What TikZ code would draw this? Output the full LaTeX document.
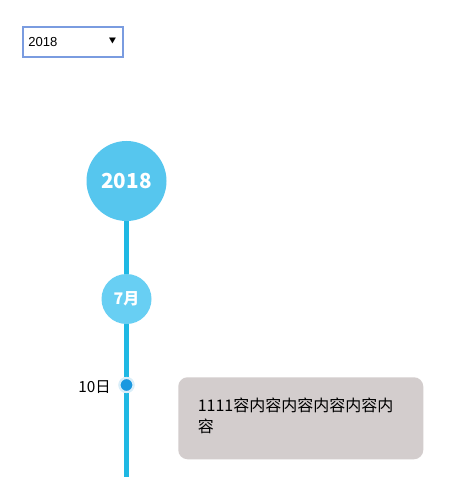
\documentclass[tikz,border=0pt]{standalone}
\usepackage{fontspec}
\setmainfont{Liberation Sans}
\newfontfamily\cjk{Noto Sans CJK SC}
\definecolor{bigc}{HTML}{56C6EE}
\definecolor{smallc}{HTML}{68CFF3}
\definecolor{linec}{HTML}{1FB8E3}
\definecolor{dotc}{HTML}{1B98E0}
\definecolor{haloc}{HTML}{D9EEF9}
\definecolor{selc}{HTML}{7A9CE0}
\definecolor{boxc}{HTML}{D3CDCD}
\tikzset{
  yearnode/.style={circle,fill=bigc,minimum size=80*0.75pt,inner sep=0pt,text=white,font=\cjk\bfseries\fontsize{15.5}{18}\selectfont},
  monthnode/.style={circle,fill=smallc,minimum size=50*0.75pt,inner sep=0pt,text=white,font=\cjk\bfseries\fontsize{12}{14}\selectfont},
  axis/.style={draw=linec,line width=3.75pt},
  daydot/.style={circle,fill=dotc,draw=haloc,line width=1.6pt,minimum size=14*0.75pt,inner sep=0pt},
  contentbox/.style={rectangle,rounded corners=7pt,fill=boxc,minimum width=245*0.75pt,minimum height=82*0.75pt,inner sep=0pt},
}
\begin{document}
\begin{tikzpicture}[x=0.75pt,y=-0.75pt]
\useasboundingbox[fill=white] (0,0) rectangle (468,477);
% select box
\node[draw=selc,line width=1.2pt,minimum width=100*0.75pt,minimum height=30*0.75pt,inner sep=0pt] (sel) at (73,42) {};
\node[anchor=west,font=\fontsize{9.8}{11}\selectfont,inner sep=0pt] (seltext) at (28,42.5) {2018};
\node[font=\cjk\fontsize{5.5}{7}\selectfont,inner sep=0pt] (selarrow) at (112.5,41.5) {▼};
% timeline
\coordinate (bottom) at (126.5,477);
\node[yearnode] (year) at (126.5,181) {2018};
\node[monthnode] (month) at (126.5,299) {7月};
\node[daydot] (dot) at (126.5,385) {};
\draw[axis] (year.south) -- (month.north);
\draw[axis] (month.south) -- (dot.north);
\draw[axis] (dot.south) -- (bottom);
\node[daydot] (dot2) at (126.5,385) {};
\node[anchor=east,font=\cjk\fontsize{11.5}{14}\selectfont,inner sep=0pt] (day) at (111,387) {10日};
% content
\node[contentbox,anchor=north west] (box) at (178,377) {};
\node[anchor=north west,align=left,font=\cjk\fontsize{12}{15.5}\selectfont,inner sep=0pt] (content) at (197.5,398) {1111容内容内容内容内容内\\容};
\end{tikzpicture}
\end{document}
